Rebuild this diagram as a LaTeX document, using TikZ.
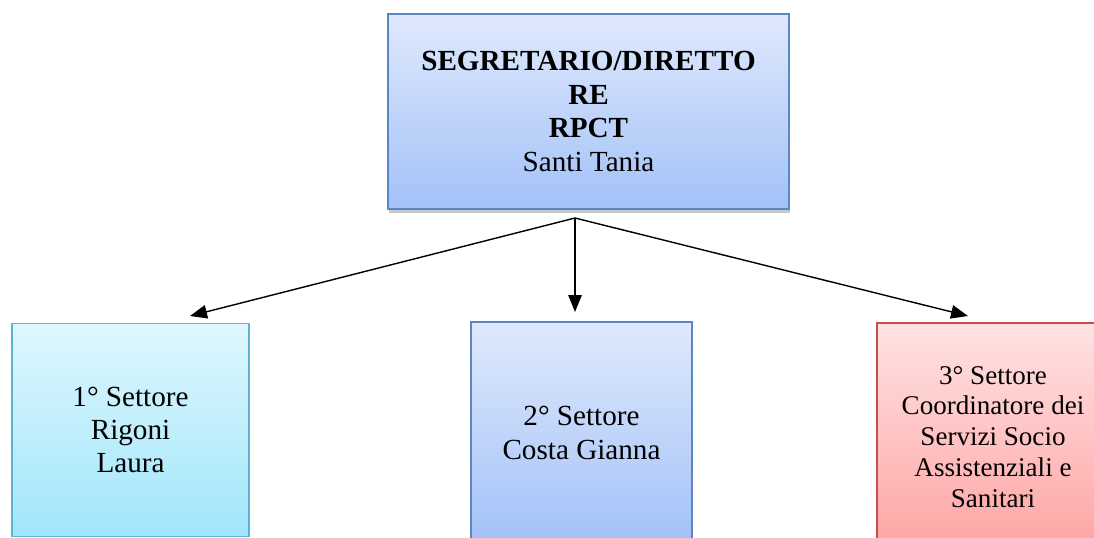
\documentclass[tikz,border=0pt]{standalone}
\usepackage{fontspec}
\setmainfont{Liberation Serif}
\usetikzlibrary{arrows.meta,shadows,positioning}

\definecolor{bluetop}{HTML}{DFE9FC}
\definecolor{bluebot}{HTML}{A3C1F8}
\definecolor{blueline}{HTML}{5A86C8}
\definecolor{cyantop}{HTML}{DFF7FE}
\definecolor{cyanbot}{HTML}{A0E6FA}
\definecolor{cyanline}{HTML}{5EB4CE}
\definecolor{redtop}{HTML}{FFE3E3}
\definecolor{redbot}{HTML}{FFA3A3}
\definecolor{redline}{HTML}{C4504E}

\tikzset{
  settore/.style={draw, line width=1pt, inner sep=2pt, align=center,
    font=\fontsize{16.6}{19.2}\selectfont},
  bluebox/.style={settore, draw=blueline, top color=bluetop, bottom color=bluebot},
  cyanbox/.style={settore, draw=cyanline, top color=cyantop, bottom color=cyanbot},
  redbox/.style={settore, draw=redline, top color=redtop, bottom color=redbot},
  freccia/.style={line width=0.8pt, -{Triangle[length=0.34cm,width=0.27cm]}}
}

\begin{document}
\begin{tikzpicture}[x=0.02cm,y=-0.02cm]
\useasboundingbox (0,0) rectangle (1094,537);
\clip (0,0) rectangle (1094,537);

% vertice
\node[bluebox, minimum width=8.02cm, minimum height=3.9cm,
  drop shadow={shadow xshift=0.5pt, shadow yshift=-2.4pt, opacity=0.45}]
  (segretario) at (588.5,111.5)
  {\textbf{SEGRETARIO/DIRETTO}\\ \textbf{RE}\\ \textbf{RPCT}\\ Santi Tania};

% settori
\node[cyanbox, minimum width=4.74cm, minimum height=4.26cm,
  font=\fontsize{16.6}{18.6}\selectfont] (primo) at (130.5,430)
  {1° Settore\\ Rigoni\\ Laura};
\node[bluebox, minimum width=4.42cm, minimum height=4.44cm] (secondo) at (581.5,433)
  {2° Settore\\ Costa Gianna};
\node[redbox, minimum width=4.64cm, minimum height=4.56cm,
  font=\fontsize{15.4}{17.6}\selectfont] (terzo) at (993,437)
  {3° Settore\\ Coordinatore dei\\ Servizi Socio\\ Assistenziali e\\ Sanitari};

% frecce
\coordinate (split) at (575,218);
\coordinate (primo in) at (190,316);
\coordinate (secondo in) at (575,312);
\coordinate (terzo in) at (968,316);
\draw[freccia] (split) -- (primo in);
\draw[freccia] (split) -- (secondo in);
\draw[freccia] (split) -- (terzo in);
\end{tikzpicture}
\end{document}
